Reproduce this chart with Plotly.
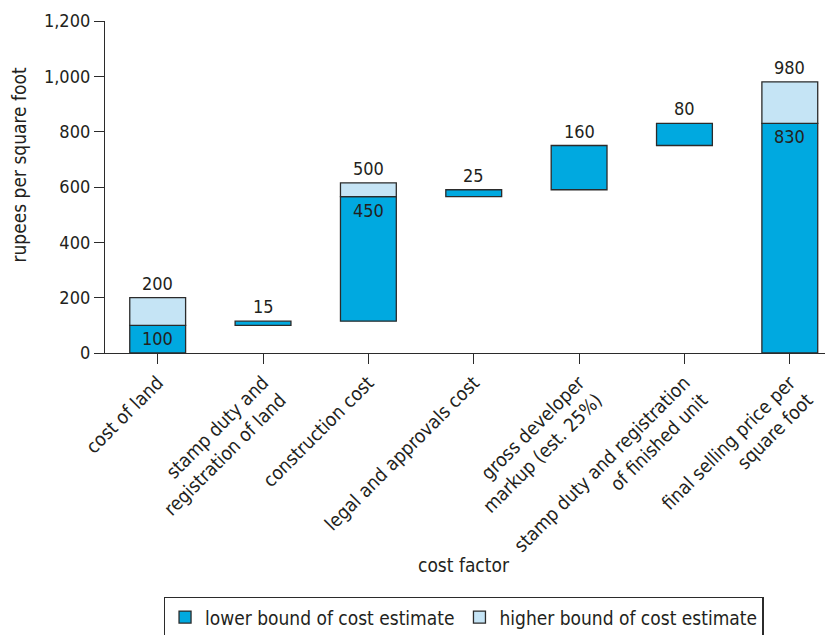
import plotly.graph_objects as go

categories = [
    "cost of land",
    "stamp duty and<br>registration of land",
    "construction cost",
    "legal and approvals cost",
    "gross developer<br>markup (est. 25%)",
    "stamp duty and registration<br>of finished unit",
    "final selling price per<br>square foot",
]
lower_base = [0, 100, 115, 565, 590, 750, 0]
lower_value = [100, 15, 450, 25, 160, 80, 830]
higher_value = [200, None, 500, None, None, None, 980]

y_ticks = [0, 200, 400, 600, 800, 1000, 1200]

FONT = "DejaVu Sans Condensed, Liberation Sans Narrow, sans-serif"
TXT = "#231f20"
DARK = "#00a9e0"
LIGHT = "#c5e4f5"
EDGE = "#2b2b2b"

x_idx = list(range(len(categories)))
extra_base = [lb + lv if hv is not None else None for lb, lv, hv in zip(lower_base, lower_value, higher_value)]
extra_val = [hv - lv if hv is not None else None for lv, hv in zip(lower_value, higher_value)]

fig = go.Figure()
fig.add_trace(go.Bar(
    x=x_idx, y=lower_value, base=lower_base, width=0.53,
    name="lower bound of cost estimate",
    marker=dict(color=DARK, line=dict(color=EDGE, width=1.3)),
    hoverinfo="skip",
))
fig.add_trace(go.Bar(
    x=x_idx, y=extra_val, base=extra_base, width=0.53,
    name="higher bound of cost estimate",
    marker=dict(color=LIGHT, line=dict(color=EDGE, width=1.3)),
    hoverinfo="skip",
))

annotations = []
for i, (lb, lv, hv) in enumerate(zip(lower_base, lower_value, higher_value)):
    if hv is None:
        annotations.append(dict(x=i, y=lb + lv, text=str(lv), showarrow=False,
                                yanchor="bottom", yshift=2, font=dict(size=18, color=TXT, family=FONT)))
    else:
        annotations.append(dict(x=i, y=lb + hv, text=str(hv), showarrow=False,
                                yanchor="bottom", yshift=2, font=dict(size=18, color=TXT, family=FONT)))
        annotations.append(dict(x=i, y=lb + lv, text=str(lv), showarrow=False,
                                yanchor="top", yshift=-1, font=dict(size=18, color=TXT, family=FONT)))

annotations.append(dict(x=0.4925, y=-0.64, xref="paper", yref="paper", text="cost factor",
                        showarrow=False, yanchor="middle", xanchor="center",
                        font=dict(size=19, color=TXT, family=FONT)))
annotations.append(dict(x=-0.118, y=0.565, xref="paper", yref="paper", text="rupees per square foot",
                        textangle=-90, showarrow=False, yanchor="middle", xanchor="center",
                        font=dict(size=19, color=TXT, family=FONT)))

fig.update_layout(
    width=825, height=627,
    margin=dict(l=97, r=0, t=13, b=282, autoexpand=False),
    plot_bgcolor="white", paper_bgcolor="white",
    barmode="overlay",
    font=dict(family=FONT, color=TXT, size=18),
    showlegend=True,
    legend=dict(orientation="h", x=0.4925, xanchor="center", y=0.061, yanchor="top",
                yref="container", bordercolor=EDGE, borderwidth=1.5,
                font=dict(size=19, color=TXT, family=FONT), itemwidth=30),
    annotations=annotations,
)
fig.update_xaxes(
    tickmode="array", tickvals=x_idx, ticktext=categories, tickangle=-45,
    range=[-0.5, 6.41], showline=True, linecolor=EDGE, linewidth=1.3,
    ticks="outside", ticklen=10, tickcolor=EDGE, showgrid=False, zeroline=False,
    tickfont=dict(size=19, color=TXT, family=FONT), automargin=False,
)
fig.update_yaxes(
    range=[0, 1200], tickvals=y_ticks, tickformat=",d",
    showline=True, linecolor=EDGE, linewidth=1.3,
    ticks="outside", ticklen=10, tickcolor=EDGE, showgrid=False, zeroline=False,
    tickfont=dict(size=18, color=TXT, family=FONT), automargin=False,
)

fig.write_html("out.html")
